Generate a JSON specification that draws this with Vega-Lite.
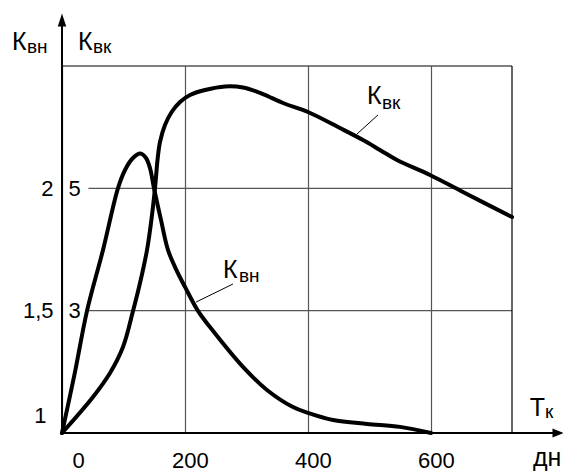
{
  "$schema": "https://vega.github.io/schema/vega-lite/v6.json",
  "width": 450,
  "height": 367,
  "autosize": {"type": "none"},
  "padding": {"left": 62, "top": 66, "right": 51, "bottom": 38},
  "background": "white",
  "config": {
    "view": {"stroke": null},
    "font": "Liberation Sans",
    "text": {"font": "Liberation Sans", "color": "black"},
    "axis": {"labelFont": "Liberation Sans", "labelColor": "black", "labelFontSize": 22, "domain": false, "ticks": false, "tickSize": 0, "title": null, "labelOverlap": false, "labelFlush": false}
  },
  "datasets": {
    "kvn": [
      {"x": 0, "y": 1.0}, {"x": 21.1, "y": 1.249}, {"x": 40.7, "y": 1.499}, {"x": 66.7, "y": 1.748},
      {"x": 91.1, "y": 2.001}, {"x": 102.5, "y": 2.075}, {"x": 113.9, "y": 2.12}, {"x": 127.5, "y": 2.142},
      {"x": 136.6, "y": 2.124}, {"x": 143.1, "y": 2.083}, {"x": 149.6, "y": 2.001}, {"x": 161.0, "y": 1.871},
      {"x": 172.4, "y": 1.748}, {"x": 185.4, "y": 1.67}, {"x": 200.1, "y": 1.597}, {"x": 221.2, "y": 1.499},
      {"x": 240.7, "y": 1.433}, {"x": 294.4, "y": 1.27}, {"x": 333.4, "y": 1.176}, {"x": 375.7, "y": 1.106},
      {"x": 400.1, "y": 1.082}, {"x": 440.8, "y": 1.053}, {"x": 496.1, "y": 1.037}, {"x": 549.8, "y": 1.025},
      {"x": 600.2, "y": 1.0}
    ],
    "kvk": [
      {"x": 0, "y": 1.0}, {"x": 50.4, "y": 1.589}, {"x": 78.1, "y": 1.981}, {"x": 99.2, "y": 2.406},
      {"x": 115.5, "y": 2.994}, {"x": 126.9, "y": 3.452}, {"x": 138.3, "y": 3.992}, {"x": 146.4, "y": 4.564},
      {"x": 151.3, "y": 5.005}, {"x": 155.7, "y": 5.496}, {"x": 159.4, "y": 5.757}, {"x": 167.5, "y": 6.035},
      {"x": 178.4, "y": 6.248}, {"x": 192.0, "y": 6.411}, {"x": 208.2, "y": 6.526}, {"x": 232.6, "y": 6.607},
      {"x": 265.1, "y": 6.665}, {"x": 294.4, "y": 6.648}, {"x": 326.9, "y": 6.542}, {"x": 359.5, "y": 6.395},
      {"x": 400.1, "y": 6.248}, {"x": 452.2, "y": 5.986}, {"x": 489.6, "y": 5.79}, {"x": 517.2, "y": 5.627},
      {"x": 544.9, "y": 5.463}, {"x": 598.6, "y": 5.218}, {"x": 652.2, "y": 4.94}, {"x": 732, "y": 4.531}
    ],
    "frame": [
      {"x": 0, "y": 2.5, "x2": 732, "y2": 2.5},
      {"x": 732, "y": 1, "x2": 732, "y2": 2.5}
    ],
    "hgrid": [
      {"x": 43, "y": 1.5, "x2": 732, "y2": 1.5},
      {"x": 43, "y": 2, "x2": 732, "y2": 2}
    ],
    "axes": [
      {"x": 0, "y": 1, "x2": 0, "y2": 2.67},
      {"x": 0, "y": 1, "x2": 800, "y2": 1}
    ],
    "leaders": [
      {"x": 278.1, "y": 1.609, "x2": 218, "y2": 1.535},
      {"x": 514, "y": 2.3, "x2": 479.8, "y2": 2.222}
    ],
    "arrowUp": [{"x": 0, "y": 2.688}],
    "arrowRight": [{"x": 806.8, "y": 1}],
    "mainText": [
      {"x": -81.3, "y": 2.565, "label": "К"},
      {"x": 26, "y": 2.565, "label": "К"},
      {"x": 261.9, "y": 1.6335, "label": "К"},
      {"x": 496.1, "y": 2.345, "label": "К"},
      {"x": 761, "y": 1.0695, "label": "Т"},
      {"x": 766, "y": 0.865, "label": "дн"}
    ],
    "subText": [
      {"x": -56.9, "y": 2.553, "label": "вн"},
      {"x": 50.4, "y": 2.553, "label": "вк"},
      {"x": 287.9, "y": 1.617, "label": "вн"},
      {"x": 520.5, "y": 2.324, "label": "вк"},
      {"x": 785.6, "y": 1.061, "label": "к"}
    ]
  },
  "encoding": {
    "x": {
      "field": "x", "type": "quantitative",
      "scale": {"domain": [0, 732], "nice": false, "zero": false},
      "axis": {
        "values": [0, 200, 400, 600],
        "grid": true, "gridColor": "#555555", "gridWidth": 1.2,
        "labelPadding": 17,
        "labelOffset": {"condition": {"test": "datum.value == 0", "value": 16}, "value": 5}
      }
    }
  },
  "layer": [
    {
      "encoding": {
        "y": {
          "field": "y", "type": "quantitative",
          "scale": {"domain": [1, 2.5], "nice": false, "zero": false},
          "axis": {
            "values": [1, 1.5, 2],
            "grid": false,
            "labelExpr": "datum.value == 1.5 ? '1,5' : format(datum.value, 'd')",
            "labelPadding": {"condition": {"test": "datum.value == 1", "value": 16}, "value": 9},
            "labelOffset": {"condition": {"test": "datum.value == 1", "value": -18}, "value": 0}
          }
        }
      },
      "layer": [
        {
          "data": {"name": "hgrid"},
          "mark": {"type": "rule", "color": "#555555", "strokeWidth": 1.2},
          "encoding": {"x2": {"field": "x2"}, "y2": {"field": "y2"}}
        },
        {
          "data": {"name": "frame"},
          "mark": {"type": "rule", "color": "black", "strokeWidth": 1.2},
          "encoding": {"x2": {"field": "x2"}, "y2": {"field": "y2"}}
        },
        {
          "data": {"name": "axes"},
          "mark": {"type": "rule", "color": "black", "strokeWidth": 2},
          "encoding": {"x2": {"field": "x2"}, "y2": {"field": "y2"}}
        },
        {
          "data": {"name": "leaders"},
          "mark": {"type": "rule", "color": "black", "strokeWidth": 1},
          "encoding": {"x2": {"field": "x2"}, "y2": {"field": "y2"}}
        },
        {
          "data": {"name": "arrowUp"},
          "mark": {"type": "point", "shape": "M-0.65,1L0,-1L0.65,1Z", "filled": true, "color": "black", "size": 169, "opacity": 1, "strokeWidth": 0}
        },
        {
          "data": {"name": "arrowRight"},
          "mark": {"type": "point", "shape": "M-1,-0.8L1,0L-1,0.8Z", "filled": true, "color": "black", "size": 121, "opacity": 1, "strokeWidth": 0}
        },
        {
          "data": {"name": "kvn"},
          "mark": {"type": "line", "interpolate": "catmull-rom", "color": "black", "strokeWidth": 4, "strokeCap": "round", "strokeJoin": "round"}
        },
        {
          "data": {"name": "mainText"},
          "mark": {"type": "text", "align": "left", "baseline": "alphabetic", "fontSize": 25},
          "encoding": {"text": {"field": "label"}}
        },
        {
          "data": {"name": "subText"},
          "mark": {"type": "text", "align": "left", "baseline": "alphabetic", "fontSize": 19},
          "encoding": {"text": {"field": "label"}}
        }
      ]
    },
    {
      "data": {"name": "kvk"},
      "mark": {"type": "line", "interpolate": "catmull-rom", "color": "black", "strokeWidth": 4, "strokeCap": "round", "strokeJoin": "round"},
      "encoding": {
        "y": {
          "field": "y", "type": "quantitative",
          "scale": {"domain": [1, 7], "nice": false, "zero": false},
          "axis": {
            "orient": "left",
            "values": [3, 5],
            "grid": false,
            "labelAlign": "left",
            "labelPadding": -6
          }
        }
      }
    }
  ],
  "resolve": {"scale": {"y": "independent"}}
}
